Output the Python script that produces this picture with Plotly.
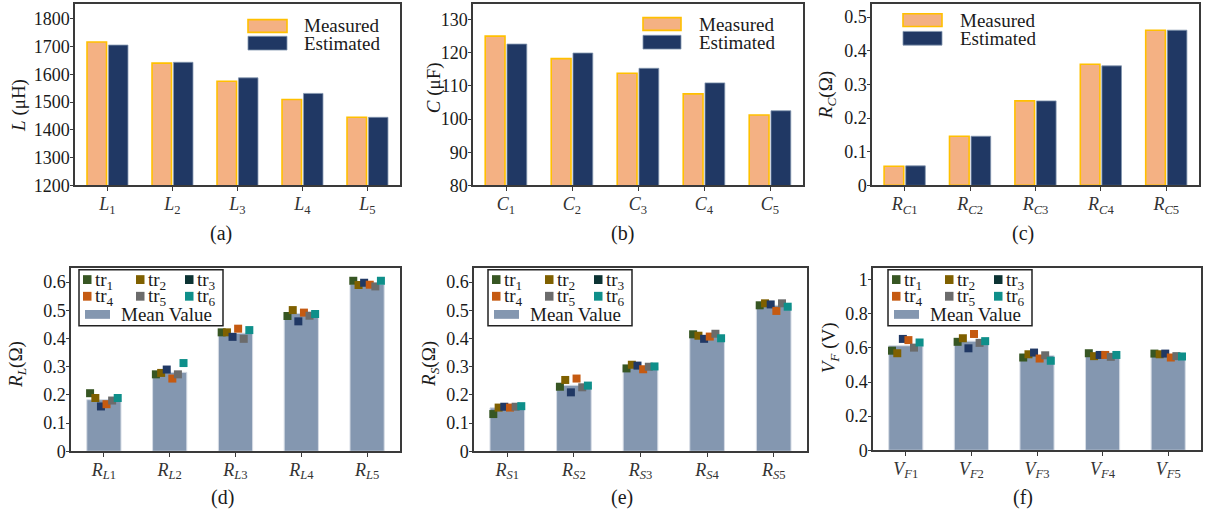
import plotly.graph_objects as go

W, H = 1207, 526

# ---------------- data ----------------
cat_L = ["<i>L</i><sub>%d</sub>" % i for i in range(1, 6)]
cat_C = ["<i>C</i><sub>%d</sub>" % i for i in range(1, 6)]
cat_RC = ["<i>R</i><sub><i>C</i>%d</sub>" % i for i in range(1, 6)]
cat_RL = ["<i>R</i><sub><i>L</i>%d</sub>" % i for i in range(1, 6)]
cat_RS = ["<i>R</i><sub><i>S</i>%d</sub>" % i for i in range(1, 6)]
cat_VF = ["<i>V</i><sub><i>F</i>%d</sub>" % i for i in range(1, 6)]

L_measured = [1716, 1640, 1575, 1509, 1445]
L_estimated = [1705, 1643, 1587, 1531, 1445]
C_measured = [125.0, 118.2, 113.8, 107.6, 101.2]
C_estimated = [122.6, 119.9, 115.3, 110.9, 102.5]
RC_measured = [0.057, 0.146, 0.251, 0.360, 0.461]
RC_estimated = [0.058, 0.146, 0.251, 0.355, 0.461]

RL_mean = [0.183, 0.280, 0.419, 0.489, 0.593]
RL_tr1 = [0.206, 0.273, 0.422, 0.480, 0.605]
RL_tr2 = [0.189, 0.278, 0.422, 0.501, 0.590]
RL_tr3 = [0.159, 0.290, 0.406, 0.461, 0.598]
RL_tr4 = [0.167, 0.258, 0.435, 0.492, 0.591]
RL_tr5 = [0.180, 0.273, 0.399, 0.481, 0.585]
RL_tr6 = [0.189, 0.313, 0.430, 0.487, 0.605]

RS_mean = [0.154, 0.234, 0.299, 0.409, 0.518]
RS_tr1 = [0.132, 0.229, 0.294, 0.415, 0.518]
RS_tr2 = [0.155, 0.253, 0.307, 0.410, 0.525]
RS_tr3 = [0.158, 0.209, 0.304, 0.399, 0.521]
RS_tr4 = [0.155, 0.258, 0.291, 0.407, 0.498]
RS_tr5 = [0.158, 0.227, 0.300, 0.417, 0.525]
RS_tr6 = [0.160, 0.233, 0.301, 0.401, 0.513]

VF_mean = [0.613, 0.640, 0.556, 0.559, 0.559]
VF_tr1 = [0.584, 0.636, 0.544, 0.569, 0.567]
VF_tr2 = [0.569, 0.657, 0.563, 0.552, 0.563]
VF_tr3 = [0.653, 0.598, 0.573, 0.559, 0.567]
VF_tr4 = [0.646, 0.682, 0.538, 0.559, 0.544]
VF_tr5 = [0.602, 0.630, 0.557, 0.548, 0.552]
VF_tr6 = [0.632, 0.640, 0.525, 0.559, 0.550]

trial_names = ["tr<sub>%d</sub>" % i for i in range(1, 7)]

# ---------------- style ----------------
FONT = "Liberation Serif, Times New Roman, serif"
TXT = "#1a1a1a"
AX = "#3a3a3a"
MEAS_FILL, MEAS_EDGE = "#F4B183", "#FFC000"
EST_FILL, EST_EDGE = "#203864", "#8497B0"
MEAN_FILL, MEAN_EDGE = "#8497B0", "#D6DCE5"
TR_MARK = ["#375623", "#7F6000", "#203864", "#C55A11", "#6B6B6B", "#0E8F8A"]
TR_LEG = ["#375623", "#7F6000", "#0C3333", "#C55A11", "#6B6B6B", "#0E8F8A"]
OFFS = [-0.21, -0.13, -0.045, 0.04, 0.125, 0.21]


def px(x):
    return x / W


def py(y):
    return 1 - y / H


# panel boxes in pixels: left, right, top, bottom
panels = [
    (75, 400, 4, 189),
    (473, 803, 4, 189),
    (872, 1199, 4, 189),
    (71, 400, 273, 460),
    (474, 807, 273, 460),
    (873, 1201, 273, 459),
]
yranges = [[1200, 1853], [80, 134.7], [0, 0.539], [0, 0.651], [0, 0.651], [0, 1.07]]
dticks = [100, 10, 0.1, 0.1, 0.1, 0.2]
cats_all = [cat_L, cat_C, cat_RC, cat_RL, cat_RS, cat_VF]

fig = go.Figure()


def axn(k):
    return ("x" if k == 1 else "x%d" % k), ("y" if k == 1 else "y%d" % k)


pairs = [(L_measured, L_estimated), (C_measured, C_estimated), (RC_measured, RC_estimated)]
for k, (meas, est) in enumerate(pairs, start=1):
    xa, ya = axn(k)
    xs = list(range(len(meas)))
    fig.add_trace(go.Bar(x=xs, y=meas, width=0.3, offset=-0.315, name="Measured",
                         marker=dict(color=MEAS_FILL, line=dict(color=MEAS_EDGE, width=1.6)),
                         xaxis=xa, yaxis=ya, showlegend=False))
    fig.add_trace(go.Bar(x=xs, y=est, width=0.3, offset=0.015, name="Estimated",
                         marker=dict(color=EST_FILL, line=dict(color=EST_EDGE, width=0.8)),
                         xaxis=xa, yaxis=ya, showlegend=False))

groups = [
    (RL_mean, [RL_tr1, RL_tr2, RL_tr3, RL_tr4, RL_tr5, RL_tr6]),
    (RS_mean, [RS_tr1, RS_tr2, RS_tr3, RS_tr4, RS_tr5, RS_tr6]),
    (VF_mean, [VF_tr1, VF_tr2, VF_tr3, VF_tr4, VF_tr5, VF_tr6]),
]
for k, (mean, trials) in enumerate(groups, start=4):
    xa, ya = axn(k)
    xs = list(range(len(mean)))
    fig.add_trace(go.Bar(x=xs, y=mean, width=0.52, offset=-0.26, name="Mean Value",
                         marker=dict(color=MEAN_FILL, line=dict(color=MEAN_EDGE, width=1)),
                         xaxis=xa, yaxis=ya, showlegend=False))
    for j, tr in enumerate(trials):
        fig.add_trace(go.Scatter(x=[i + OFFS[j] for i in xs], y=tr, mode="markers",
                                 name=trial_names[j],
                                 marker=dict(symbol="square", size=8, color=TR_MARK[j]),
                                 xaxis=xa, yaxis=ya, showlegend=False, cliponaxis=False))

layout = dict(width=W, height=H, margin=dict(l=0, r=0, t=0, b=0),
              paper_bgcolor="white", plot_bgcolor="white", showlegend=False,
              font=dict(family=FONT, color=TXT, size=18))
for k in range(1, 7):
    l, r, t, b = panels[k - 1]
    xk = "xaxis" if k == 1 else "xaxis%d" % k
    yk = "yaxis" if k == 1 else "yaxis%d" % k
    xa, ya = axn(k)
    layout[xk] = dict(domain=[px(l), px(r)], anchor=ya, range=[-0.5, 4.5],
                      tickmode="array", tickvals=list(range(5)), ticktext=cats_all[k - 1],
                      showline=True, mirror=True, linecolor=AX, linewidth=1.5,
                      ticks="outside", ticklen=4, tickcolor=AX, showgrid=False, zeroline=False,
                      ticklabelstandoff=-3,
                      tickfont=dict(family=FONT, size=18, color="#333333"))
    layout[yk] = dict(domain=[py(b), py(t)], anchor=xa, range=yranges[k - 1],
                      dtick=dticks[k - 1], tick0=0,
                      showline=True, mirror=True, linecolor=AX, linewidth=1.5,
                      ticks="outside", ticklen=3, tickcolor=AX, showgrid=False, zeroline=False,
                      ticklabelstandoff=-3,
                      tickfont=dict(family=FONT, size=18, color=TXT))
fig.update_layout(**layout)

shapes = []
annotations = []

# y-axis titles
ytitles = [
    ("<i>L</i> (μH)", 19, 108),
    ("<i>C</i> (μF)", 434, 90),
    ("<i>R<sub>C</sub></i>(Ω)", 827, 97),
    ("<i>R<sub>L</sub></i>(Ω)", 17, 372),
    ("<i>R<sub>S</sub></i>(Ω)", 430, 371),
    ("<i>V<sub>F</sub></i> (V)", 830, 355),
]
for txt, x, y in ytitles:
    annotations.append(dict(text=txt, x=px(x), y=py(y), xref="paper", yref="paper",
                            textangle=-90, showarrow=False, xanchor="center", yanchor="middle",
                            font=dict(family=FONT, size=19, color=TXT)))

# captions
for lab, x, y in [("(a)", 221, 238), ("(b)", 622, 238), ("(c)", 1023, 238),
                  ("(d)", 222, 507), ("(e)", 622, 507), ("(f)", 1023, 507)]:
    annotations.append(dict(text=lab, x=px(x), y=py(y), xref="paper", yref="paper",
                            showarrow=False, xanchor="center", yanchor="middle",
                            font=dict(family=FONT, size=20, color=TXT)))

# legends of top row (no frame)
for (x0, x1, y0m, y0e, tx) in [(248, 287, 20, 37, 302), (643, 681, 18, 36, 697), (903, 942, 14, 32, 958)]:
    shapes.append(dict(type="rect", xref="paper", yref="paper", x0=px(x0), x1=px(x1),
                       y0=py(y0m), y1=py(y0m + 13), fillcolor=MEAS_FILL,
                       line=dict(color=MEAS_EDGE, width=1.6)))
    shapes.append(dict(type="rect", xref="paper", yref="paper", x0=px(x0), x1=px(x1),
                       y0=py(y0e), y1=py(y0e + 14), fillcolor=EST_FILL,
                       line=dict(color=EST_EDGE, width=0.8)))
    annotations.append(dict(text="Measured", x=px(tx), y=py(y0m + 6.5), xref="paper", yref="paper",
                            showarrow=False, xanchor="left", yanchor="middle",
                            font=dict(family=FONT, size=19, color=TXT)))
    annotations.append(dict(text="Estimated", x=px(tx), y=py(y0e + 7), xref="paper", yref="paper",
                            showarrow=False, xanchor="left", yanchor="middle",
                            font=dict(family=FONT, size=19, color=TXT)))

# legends of bottom row (framed)
for bx0 in [79, 488, 888]:
    shapes.append(dict(type="rect", xref="paper", yref="paper", x0=px(bx0), x1=px(bx0 + 144),
                       y0=py(275), y1=py(332), fillcolor="white", line=dict(color="#222", width=1.5)))
    col_dx = [4, 57, 106]
    row_y = [285, 302]
    for j in range(6):
        cx = bx0 + col_dx[j % 3]
        cy = row_y[j // 3]
        shapes.append(dict(type="rect", xref="paper", yref="paper", x0=px(cx), x1=px(cx + 8.5),
                           y0=py(cy - 4.5), y1=py(cy + 4.5), fillcolor=TR_LEG[j], line=dict(width=0)))
        annotations.append(dict(text=trial_names[j], x=px(cx + 11), y=py(cy + 1), xref="paper",
                                yref="paper", showarrow=False, xanchor="left", yanchor="middle",
                                borderpad=0,
                                font=dict(family=FONT, size=19, color=TXT)))
    shapes.append(dict(type="rect", xref="paper", yref="paper", x0=px(bx0 + 6), x1=px(bx0 + 31),
                       y0=py(316), y1=py(325), fillcolor=MEAN_FILL, line=dict(width=0)))
    annotations.append(dict(text="Mean Value", x=px(bx0 + 40), y=py(321), xref="paper", yref="paper",
                            showarrow=False, xanchor="left", yanchor="middle",
                            font=dict(family=FONT, size=19, color=TXT)))

fig.update_layout(shapes=shapes, annotations=annotations)
fig.write_html("out.html")
